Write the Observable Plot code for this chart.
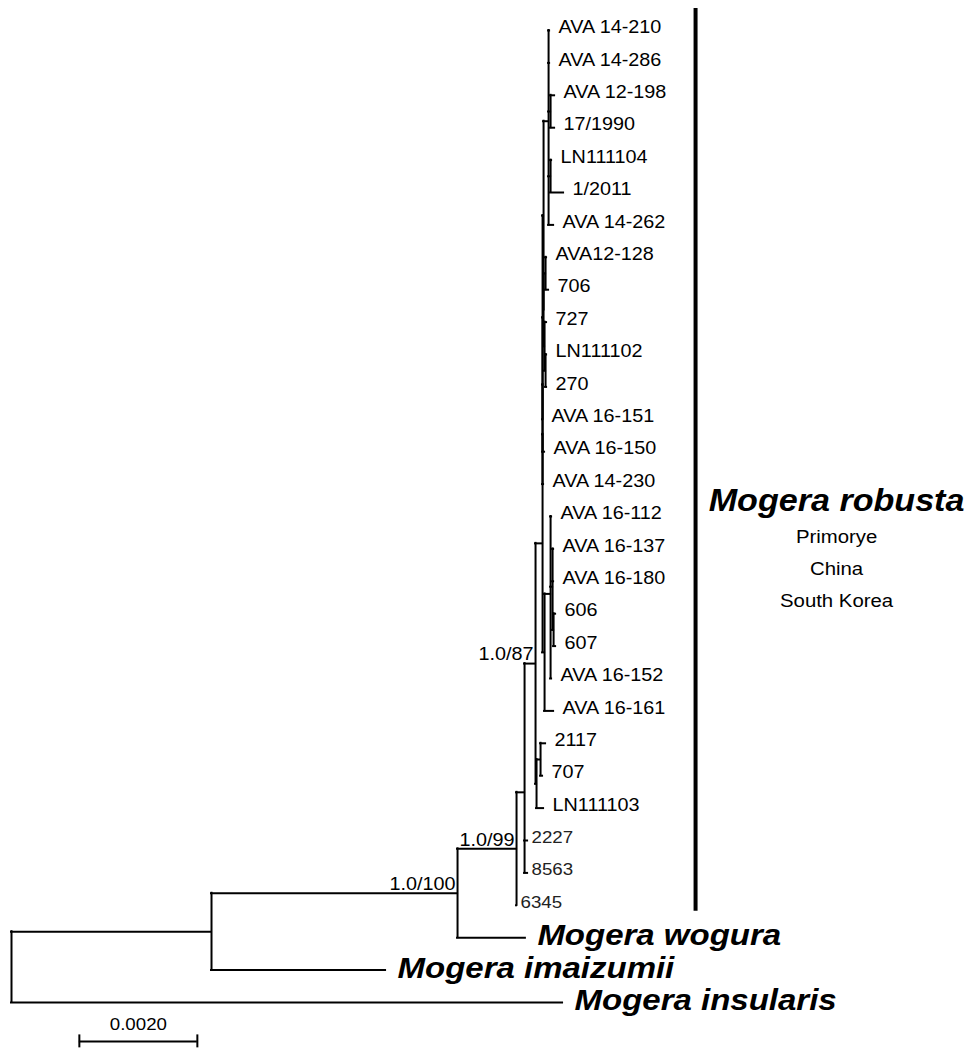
<!DOCTYPE html>
<html><head><meta charset="utf-8">
<script src="https://cdn.jsdelivr.net/npm/d3@7"></script>
<script src="https://cdn.jsdelivr.net/npm/@observablehq/plot@0.6"></script>
<style>html,body{margin:0;background:#fff}svg{display:block}</style>
</head><body><div id="chart"></div>
<script>
// Tip order, top to bottom
const tips = ["AVA 14-210","AVA 14-286","AVA 12-198","17/1990","LN111104","1/2011","AVA 14-262","AVA12-128","706","727","LN111102","270","AVA 16-151","AVA 16-150","AVA 14-230","AVA 16-112","AVA 16-137","AVA 16-180","606","607","AVA 16-152","AVA 16-161","2117","707","LN111103","2227","8563","6345","Mogera wogura","Mogera imaizumii","Mogera insularis"];
// Tree: node names, parents and branch lengths (substitutions/site)
const nodeNames = ["root","A","Mogera insularis","B","Mogera imaizumii","C","Mogera wogura","D","6345","E","2227","8563","F","E2","E3","LN111103","2117","707","F1","K","F2","AVA 14-230","F3","AVA 16-150","X","AVA 16-151","G","M","AVA 14-210","AVA 14-286","P1","P2","AVA 14-262","AVA 12-198","17/1990","LN111104","1/2011","M1","M2","AVA12-128","706","727","M3","LN111102","270","K1","AVA 16-161","AVA 16-112","K2","AVA 16-152","AVA 16-137","AVA 16-180","K3","606","607"];
const nodeParents = [null,"root","root","A","A","B","B","C","C","D","D","D","E","E","E2","E2","E3","E3","F","F","F1","F1","F2","F2","F3","F3","X","X","G","G","G","G","G","P1","P1","P2","P2","M","M","M1","M1","M2","M2","M3","M3","K","K","K1","K1","K1","K2","K2","K2","K3","K3"];
const branchLengths = [0,0.00339,0.00934,0.00417,0.00295,0.00100,0.00115,0.000136,0,0.000186,0.000051,0.000051,0.000119,0.000017,0.000068,0.000119,0.000085,0.000034,0,0.000034,0,0.000017,0,0.000034,0.000017,0,0.000085,0,0.000017,0.000017,0.000034,0.000034,0.000085,0.000068,0.000068,0.000017,0.00022,0.000034,0.000017,0.000017,0.000051,0.000034,0.000017,0.000017,0.000017,0.000102,0.000153,0.000017,0.000034,0.000017,0.000017,0.000017,0.000017,0.000034,0.000034];
// Support values (posterior probability / bootstrap)
const supportNodes = ["B","C","E"];
const supportValues = ["1.0/100","1.0/99","1.0/87"];
const speciesTips = ["Mogera wogura","Mogera imaizumii","Mogera insularis"];
const minorTips = ["2227","8563","6345"];
const cladeFirst = "AVA 14-210", cladeLast = "6345";
const cladeName = "Mogera robusta";
const cladeRegions = ["Primorye","China","South Korea"];
const scaleBarStart = 0.00115, scaleBarLength = 0.002, scaleBarLabel = "0.0020";

// ---- layout (depth from branch lengths, y = mean of children) ----
const nodes = nodeNames.map((name, i) => ({name, parent: nodeParents[i], bl: branchLengths[i], children: []}));
const byName = new Map(nodes.map(n => [n.name, n]));
for (const n of nodes) if (n.parent) byName.get(n.parent).children.push(n);
const root = byName.get("root");
(function depth(n, d) { n.depth = d + n.bl; n.children.forEach(c => depth(c, n.depth)); })(root, 0);
(function place(n) {
  if (!n.children.length) { n.y = tips.indexOf(n.name); return n.y; }
  n.y = d3.mean(n.children, place);
  n.y1 = d3.min(n.children, c => c.y); n.y2 = d3.max(n.children, c => c.y);
  return n.y;
})(root);
const internal = nodes.filter(n => n.children.length);
const branches = nodes.filter(n => n.parent).map(n => ({x1: byName.get(n.parent).depth, x2: n.depth, y: n.y}));
const leaves = nodes.filter(n => !n.children.length);
const normal = leaves.filter(n => !speciesTips.includes(n.name) && !minorTips.includes(n.name));
const species = leaves.filter(n => speciesTips.includes(n.name));
const minor = leaves.filter(n => minorTips.includes(n.name));
const supports = supportNodes.map((s, i) => ({x: byName.get(s).depth, y: byName.get(s).y, text: supportValues[i]}));
const cladeIdx = [tips.indexOf(cladeFirst), tips.indexOf(cladeLast)];
const cladeTipsDepth = d3.max(tips.slice(cladeIdx[0], cladeIdx[1] + 1), t => byName.get(t).depth);
const cladeMid = (cladeIdx[0] + cladeIdx[1]) / 2;
const barY = tips.length + 0.2;

const font = "Liberation Sans, Arial, Helvetica, sans-serif";
const chart = Plot.plot({
  width: 966, height: 1053,
  marginLeft: 11, marginRight: 0, marginTop: 30, marginBottom: 51,
  x: {domain: [0, 955 / 59000], axis: null},
  y: {domain: [0, tips.length - 1], reverse: true, axis: null},
  style: {fontFamily: font, background: "#fff", color: "#000", overflow: "visible"},
  marks: [
    Plot.ruleY(branches, {x1: "x1", x2: "x2", y: "y", stroke: "#000", strokeWidth: 2, strokeLinecap: "square"}),
    Plot.ruleX(internal, {x: "depth", y1: "y1", y2: "y2", stroke: "#000", strokeWidth: 2, strokeLinecap: "square"}),
    Plot.text(normal, {x: "depth", y: "y", text: "name", textAnchor: "start", dx: 9, dy: -3, fontSize: 18, fill: "#000"}),
    Plot.text(minor, {x: "depth", y: "y", text: "name", textAnchor: "start", dx: 4, dy: -3, fontSize: 17, fill: "#222"}),
    Plot.text(species, {x: "depth", y: "y", text: "name", textAnchor: "start", dx: 12, dy: -2, fontSize: 30, fontWeight: "bold", fontStyle: "italic", fill: "#000"}),
    Plot.text(supports, {x: "x", y: "y", text: "text", textAnchor: "end", dx: -2, dy: -9, fontSize: 18, fill: "#000"}),
    // clade bar and annotation
    Plot.ruleX([cladeTipsDepth], {x: d => d, y1: cladeIdx[0], y2: cladeIdx[1], dx: 132, insetTop: -22, insetBottom: -6, stroke: "#000", strokeWidth: 4}),
    Plot.text([cladeName], {x: cladeTipsDepth, y: cladeMid, dx: 273, dy: 33, textAnchor: "middle", fontSize: 31, fontWeight: "bold", fontStyle: "italic", fill: "#000"}),
    Plot.text([cladeRegions.join("\n")], {x: cladeTipsDepth, y: cladeMid, dx: 273, dy: 97, textAnchor: "middle", fontSize: 18.5, lineHeight: 1.73, fill: "#000"}),
    // scale bar
    Plot.ruleY([barY], {y: d => d, x1: scaleBarStart, x2: scaleBarStart + scaleBarLength, stroke: "#000", strokeWidth: 2}),
    Plot.ruleX([scaleBarStart, scaleBarStart + scaleBarLength], {x: d => d, y1: barY - 0.2, y2: barY + 0.2, stroke: "#000", strokeWidth: 2}),
    Plot.text([scaleBarLabel], {x: scaleBarStart + scaleBarLength / 2, y: barY, dy: -17, text: d => d, textAnchor: "middle", fontSize: 17, fill: "#000"})
  ]
});
for (const t of chart.querySelectorAll("text")) {
  const tr = t.getAttribute("transform");
  if (tr) t.setAttribute("transform", tr + " scale(1.1,1)");
  else {
    const x = +t.getAttribute("x") || 0, y = +t.getAttribute("y") || 0;
    t.removeAttribute("x"); t.removeAttribute("y");
    t.setAttribute("transform", `translate(${x},${y}) scale(1.1,1)`);
  }
}
document.getElementById("chart").appendChild(chart);
</script>
</body></html>
